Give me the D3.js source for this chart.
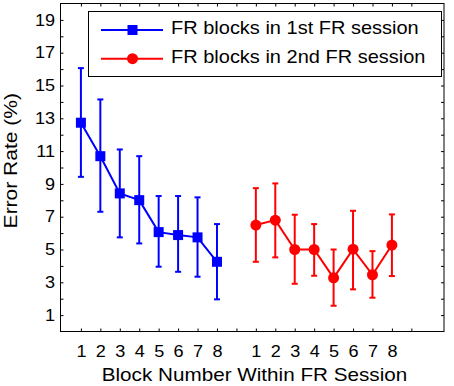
<!DOCTYPE html>
<html lang="en">
<head>
<meta charset="UTF-8">
<title>Error Rate by Block</title>
<script src="https://cdnjs.cloudflare.com/ajax/libs/d3/7.8.5/d3.min.js"></script>
<style>
    * { margin: 0; padding: 0; box-sizing: border-box; }
    body { background: #fff; width: 454px; height: 386px; overflow: hidden; }
    svg { font-family: "Liberation Sans", Arial, sans-serif; display: block; }
    .axis path, .axis line { stroke: #000; stroke-width: 1; }
    .axis text { fill: #000; }
</style>
</head>
<body>
<div id="chart"></div>
<script>
    // Data
    const blocks = [1, 2, 3, 4, 5, 6, 7, 8];
    const seriesNames = ["FR blocks in 1st FR session", "FR blocks in 2nd FR session"];
    const firstMean = [12.73, 10.69, 8.42, 8.01, 6.06, 5.88, 5.74, 4.25];
    const firstHigh = [16.06, 14.15, 11.10, 10.69, 8.26, 8.26, 8.18, 6.55];
    const firstLow  = [9.43, 7.30, 5.74, 5.37, 3.95, 3.64, 3.34, 1.96];
    const secondMean = [6.49, 6.79, 5.00, 5.00, 3.27, 5.02, 3.46, 5.27];
    const secondHigh = [8.74, 9.03, 7.12, 6.55, 5.00, 7.36, 4.90, 7.14];
    const secondLow  = [4.25, 4.52, 2.91, 3.40, 1.57, 2.57, 2.06, 3.38];
    const yTicks = d3.range(1, 20);           // every 1, labels on odd
    const xTicks = d3.range(1, 19);           // 1..18, second group offset by 9

    const width = 454, height = 386;
    const box = {left: 60.5, right: 444, top: 3.5, bottom: 331.5};
    const stretch = 1.13;   // the figure's font is wider than Arial

    const svg = d3.select("#chart").append("svg")
        .attr("width", width)
        .attr("height", height);

    const x = d3.scaleLinear().domain([-0.05, 19.68]).range([box.left, box.right]);
    const y = d3.scaleLinear().domain([0, 20]).range([box.bottom, box.top]);

    const xLabel = v => (v >= 1 && v <= 8) ? v : (v >= 10 && v <= 17 ? v - 9 : "");
    const yLabel = v => v % 2 === 1 ? v : "";

    // axes with inward ticks (all four sides)
    svg.append("g").attr("class", "axis")
        .attr("transform", `translate(0,${box.bottom})`)
        .call(d3.axisBottom(x).tickValues(xTicks).tickSize(-3).tickPadding(14).tickFormat(xLabel))
        .call(g => g.select(".domain").remove())
        .call(g => g.selectAll("text").attr("font-size", 16).attr("transform", `scale(${stretch},1)`));
    svg.append("g").attr("class", "axis")
        .attr("transform", `translate(0,${box.top})`)
        .call(d3.axisTop(x).tickValues(xTicks).tickSize(-3).tickFormat(""))
        .call(g => g.select(".domain").remove());
    svg.append("g").attr("class", "axis")
        .attr("transform", `translate(${box.left},0)`)
        .call(d3.axisLeft(y).tickValues(yTicks).tickSize(-3).tickFormat(yLabel))
        .call(g => g.select(".domain").remove())
        .call(g => g.selectAll("text").attr("font-size", 16)
            .attr("x", -5.5 / stretch).attr("transform", `scale(${stretch},1)`));
    svg.append("g").attr("class", "axis")
        .attr("transform", `translate(${box.right},0)`)
        .call(d3.axisRight(y).tickValues(yTicks).tickSize(-3).tickFormat(""))
        .call(g => g.select(".domain").remove());

    svg.append("rect")
        .attr("x", box.left).attr("y", box.top)
        .attr("width", box.right - box.left).attr("height", box.bottom - box.top)
        .attr("fill", "none").attr("stroke", "#000");

    // series
    const series = [
        {name: seriesNames[0], color: "#0000ff", shape: "square", offset: 0,
         mean: firstMean, hi: firstHigh, lo: firstLow},
        {name: seriesNames[1], color: "#ff0000", shape: "circle", offset: 9,
         mean: secondMean, hi: secondHigh, lo: secondLow}
    ];

    function drawMarker(g, shape, cx, cy, color) {
        if (shape === "square") {
            g.append("rect").attr("x", cx - 5).attr("y", cy - 5)
                .attr("width", 10).attr("height", 10).attr("fill", color);
        } else {
            g.append("circle").attr("cx", cx).attr("cy", cy).attr("r", 5.5).attr("fill", color);
        }
    }

    function addText(parent, tx, ty, size, anchor, str, rotate) {
        return parent.append("text")
            .attr("transform", `translate(${tx},${ty})${rotate ? " rotate(-90)" : ""} scale(${stretch},1)`)
            .attr("text-anchor", anchor).attr("font-size", size).attr("fill", "#000")
            .text(str);
    }

    series.forEach(s => {
        const g = svg.append("g");
        const pts = blocks.map((b, i) => ({x: b + s.offset, m: s.mean[i], hi: s.hi[i], lo: s.lo[i]}));

        // error bars
        pts.forEach(p => {
            g.append("line").attr("x1", x(p.x)).attr("x2", x(p.x))
                .attr("y1", y(p.hi)).attr("y2", y(p.lo))
                .attr("stroke", s.color).attr("stroke-width", 2);
            [p.hi, p.lo].forEach(v => {
                g.append("line").attr("x1", x(p.x) - 3).attr("x2", x(p.x) + 3)
                    .attr("y1", y(v)).attr("y2", y(v))
                    .attr("stroke", s.color).attr("stroke-width", 2);
            });
        });

        g.append("path").datum(pts)
            .attr("d", d3.line().x(d => x(d.x)).y(d => y(d.m)))
            .attr("fill", "none").attr("stroke", s.color).attr("stroke-width", 2);

        pts.forEach(p => drawMarker(g, s.shape, x(p.x), y(p.m), s.color));
    });

    // legend
    const legend = svg.append("g");
    legend.append("rect")
        .attr("x", 88.5).attr("y", 11.5).attr("width", 353).attr("height", 65)
        .attr("fill", "#fff").attr("stroke", "#000");
    series.forEach((s, i) => {
        const ly = 30 + i * 28.7;
        legend.append("line").attr("x1", 101).attr("x2", 163)
            .attr("y1", ly).attr("y2", ly)
            .attr("stroke", s.color).attr("stroke-width", 2);
        drawMarker(legend, s.shape, 132.5, ly, s.color);
        addText(legend, 171, ly + 4.4, 17.7, "start", s.name);
    });

    // axis titles
    addText(svg, 254.5, 380.7, 18.3, "middle", "Block Number Within FR Session");
    addText(svg, 17.3, 160.7, 18.6, "middle", "Error Rate (%)", true);
</script>
</body>
</html>
